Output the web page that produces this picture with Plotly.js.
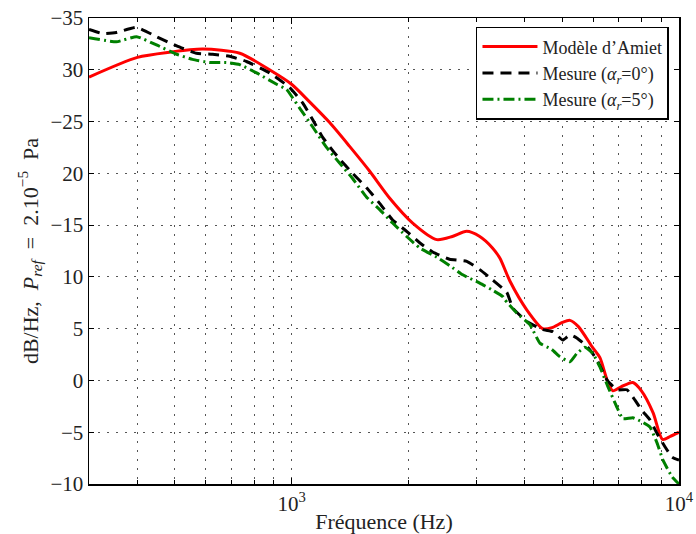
<!DOCTYPE html>
<html>
<head>
<meta charset="utf-8">
<script src="https://cdn.plot.ly/plotly-3.0.1.min.js"></script>
<style>html,body{margin:0;padding:0;background:#fff;}#chart{width:696px;height:534px;}</style>
</head>
<body>
<div id="chart"></div>
<script>
// Modèle d'Amiet
const freqAmiet = [300,400,484,590,735,877,1000,1113,1254,1412,1591,1792,2054,2370,2600,2830,3060,3300,3450,3660,4050,4450,4700,5000,5230,5500,5980,6250,6530,6750,7100,7600,8000,8570,9070,9500,10000];
const valAmiet  = [29.3,31.2,31.7,32.0,31.6,30.0,28.6,26.9,24.9,22.6,20.2,17.6,15.2,13.6,13.9,14.4,13.9,12.8,11.8,9.6,6.8,5.0,5.1,5.6,5.8,5.2,3.2,2.2,0.0,-1.0,-0.6,-0.2,-1.0,-3.1,-5.7,-5.4,-5.0];

// Mesure alpha_r = 0
const freqMes0 = [300,325,353,398,448,505,568,625,692,765,877,988,1068,1133,1202,1315,1437,1562,1688,1823,1982,2141,2313,2557,2833,3060,3306,3594,3724,4048,4453,4725,5013,5228,5447,5819,6138,6530,6917,7340,7600,8025,8414,8770,9200,9593,10000];
const valMes0  = [33.9,33.5,33.6,34.1,33.2,32.3,31.6,31.5,31.3,30.8,29.7,28.3,26.8,25.2,23.5,21.6,20.0,18.6,17.1,15.5,14.4,13.3,12.4,11.7,11.5,10.7,9.7,8.5,7.0,5.7,4.9,4.7,3.9,4.4,4.1,3.2,2.0,0.0,-0.9,-0.9,-1.6,-2.9,-3.8,-5.1,-6.4,-7.4,-7.7];

// Mesure alpha_r = 5
const freqMes5 = [300,353,398,448,505,555,614,679,735,812,915,971,1006,1049,1133,1231,1330,1437,1562,1688,1823,1982,2141,2370,2557,2766,3060,3306,3509,3550,3814,4122,4374,4695,4925,5228,5447,5716,5996,6250,6554,6917,7162,7600,8025,8414,8770,9093,9593,10000];
const valMes5  = [33.1,32.7,33.2,32.4,31.5,31.0,30.7,30.7,30.5,29.7,28.6,28.1,27.3,26.3,24.5,22.5,21.0,19.5,17.7,16.5,15.2,13.9,12.8,11.9,11.1,10.2,9.4,8.7,8.1,7.8,6.5,5.4,3.6,3.0,2.3,1.8,2.6,3.2,2.6,1.3,-0.6,-2.6,-3.7,-3.6,-4.0,-4.5,-6.0,-7.7,-9.3,-10.0];

// Axis ticks
const xMajorVals = [1000,10000];
const xMajorText = ['10<sup>3</sup>','10<sup>4</sup>'];
const xMinorVals = [300,400,500,600,700,800,900,2000,3000,4000,5000,6000,7000,8000,9000];
const yTickVals = [-10,-5,0,5,10,15,20,25,30,35];
const yTickText = ['\u221210','\u22125','0','5','10','\u221215','20','\u221225','30','\u221235'];

const serif = 'Liberation Serif, DejaVu Serif, serif';
const txt = '#222';
const gridDash = '1.5px,7.5px';
const gridCol = '#555';

const traces = [
  {x: freqAmiet, y: valAmiet, type: 'scatter', mode: 'lines', name: 'Modèle d’Amiet',
   line: {color: '#ff0000', width: 3, shape: 'spline', smoothing: 0.7}},
  {x: freqMes0, y: valMes0, type: 'scatter', mode: 'lines', name: 'Mesure (<i>α<sub>r</sub></i>=0°)',
   line: {color: '#000000', width: 3, dash: '11px,7px', shape: 'spline', smoothing: 0.4}},
  {x: freqMes5, y: valMes5, type: 'scatter', mode: 'lines', name: 'Mesure (<i>α<sub>r</sub></i>=5°)',
   line: {color: '#008000', width: 3, dash: '11px,4px,2px,4px', shape: 'spline', smoothing: 0.4}}
];

const layout = {
  width: 696, height: 534,
  margin: {l: 89, r: 17, t: 18, b: 50},
  paper_bgcolor: '#ffffff', plot_bgcolor: '#ffffff',
  font: {family: serif, size: 21, color: txt},
  showlegend: true,
  legend: {x: 0.983, xanchor: 'right', y: 0.981, yanchor: 'top', bgcolor: '#ffffff',
           bordercolor: '#000', borderwidth: 1.5, font: {family: serif, size: 18, color: txt},
           itemwidth: 55},
  xaxis: {
    type: 'log', range: [Math.log10(300), 4],
    tickmode: 'array', tickvals: xMajorVals, ticktext: xMajorText,
    ticks: 'inside', ticklen: 6, tickcolor: '#000', tickwidth: 1,
    minor: {tickmode: 'array', tickvals: xMinorVals, ticks: 'inside', ticklen: 4, tickcolor: '#000',
            showgrid: true, gridcolor: gridCol, griddash: gridDash, gridwidth: 1},
    showline: true, linecolor: '#000', linewidth: 1.5, mirror: 'ticks',
    showgrid: true, gridcolor: gridCol, griddash: gridDash, gridwidth: 1,
    zeroline: false,
    tickfont: {family: serif, size: 21, color: txt},
    title: {text: 'Fréquence (Hz)', font: {family: serif, size: 22, color: txt}, standoff: 0}
  },
  yaxis: {
    range: [-10, 35],
    tickmode: 'array', tickvals: yTickVals, ticktext: yTickText,
    ticks: 'inside', ticklen: 5, tickcolor: '#000', tickwidth: 1,
    showline: true, linecolor: '#000', linewidth: 1.5, mirror: 'ticks',
    showgrid: true, gridcolor: gridCol, griddash: gridDash, gridwidth: 1,
    zeroline: false,
    tickfont: {family: serif, size: 21, color: txt},
    title: {text: 'dB/Hz,&nbsp; <i>P<sub>ref</sub></i> &nbsp;=&nbsp; 2.10<sup>−5</sup> &nbsp;Pa', font: {family: serif, size: 22, color: txt}, standoff: 6}
  }
};

Plotly.newPlot('chart', traces, layout, {displayModeBar: false, staticPlot: true});
</script>
</body>
</html>
